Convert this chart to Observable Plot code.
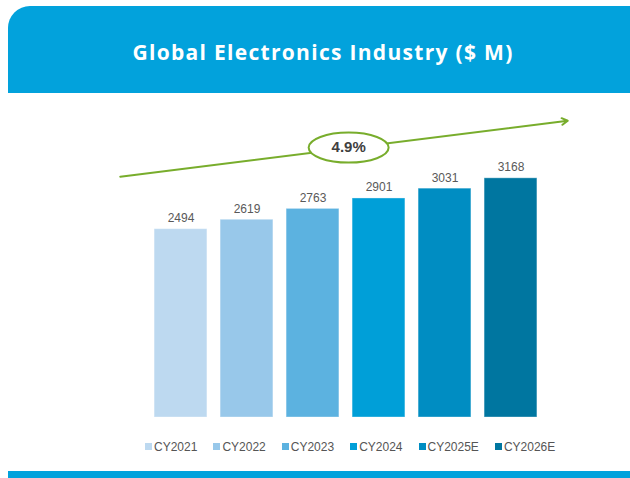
<!DOCTYPE html>
<html><head><meta charset="utf-8">
<script src="https://cdn.jsdelivr.net/npm/d3@7"></script>
<script src="https://cdn.jsdelivr.net/npm/@observablehq/plot@0.6"></script>
<style>
html,body{margin:0;padding:0;background:#fff;}
body{width:630px;height:478px;overflow:hidden;position:relative;font-family:"Liberation Sans",Arial,sans-serif;}
#header{position:absolute;left:8px;top:6px;width:652px;height:87px;background:#02a2dc;border-radius:22px 22px 0 0;}
#title{position:absolute;left:8px;top:6px;width:630px;height:87px;text-align:center;line-height:92px;color:#fff;font-family:"Open Sans",Lato,sans-serif;font-weight:700;font-size:21px;letter-spacing:1.3px;}
#footer{position:absolute;left:8px;top:471px;width:630px;height:7px;background:#02a2dc;}
#chart{position:absolute;left:0;top:93px;}
#legend{position:absolute;left:145px;top:430px;}
#legend span{margin-right:16px !important;}
#legend svg{margin-right:2px !important;}
</style>
</head><body>
<div id="header"></div>
<div id="title">Global Electronics Industry ($ M)</div>
<div id="chart"></div>
<div id="legend"></div>
<div id="footer"></div>
<script>
const categories = ["CY2021", "CY2022", "CY2023", "CY2024", "CY2025E", "CY2026E"];
const values = [2494, 2619, 2763, 2901, 3031, 3168];
const colors = ["#bdd9f0", "#98c8ea", "#5cb2e0", "#009fd8", "#008dc2", "#0076a0"];
const cagrLabel = "4.9%";
const trendX = [-0.92, 5.86];
const trendY = [3190, 3930];
const labelX = [2.54];
const labelY = [3575];

const bars = categories.map((c, i) => ({cat: c, idx: i, value: values[i]}));
const trend = [{x1: trendX[0], x2: trendX[1], y1: trendY[0], y2: trendY[1]}];
const badge = [{x: labelX[0], y: labelY[0], text: cagrLabel}];

const ellipse = {
  draw(ctx) {
    const rx = 40, ry = 15, k = 0.5523;
    ctx.moveTo(rx, 0);
    ctx.bezierCurveTo(rx, ry * k, rx * k, ry, 0, ry);
    ctx.bezierCurveTo(-rx * k, ry, -rx, ry * k, -rx, 0);
    ctx.bezierCurveTo(-rx, -ry * k, -rx * k, -ry, 0, -ry);
    ctx.bezierCurveTo(rx * k, -ry, rx, -ry * k, rx, 0);
    ctx.closePath();
  }
};

const plot = Plot.plot({
  width: 630,
  height: 340,
  marginLeft: 81.5,
  marginRight: 20.5,
  marginTop: 22,
  marginBottom: 16,
  style: {fontFamily: "'Liberation Sans', Arial, sans-serif", background: "transparent"},
  x: {domain: [-1.5, 6.5], axis: null},
  y: {domain: [0, 4000], axis: null},
  color: {type: "ordinal", domain: categories, range: colors},
  marks: [
    Plot.rectY(bars, {x1: d => d.idx - 0.4, x2: d => d.idx + 0.4, y1: 0, y2: "value", fill: "cat", stroke: "#ffffff", strokeOpacity: 0.35, strokeWidth: 1}),
    Plot.text(bars, {x: "idx", y: "value", text: d => String(d.value), dy: -11, fontSize: 12, fill: "#595959"}),
    Plot.arrow(trend, {x1: "x1", x2: "x2", y1: "y1", y2: "y2", stroke: "#78ad2c", strokeWidth: 2, headLength: 5}),
    Plot.dot(badge, {x: "x", y: "y", symbol: ellipse, r: 1, fill: "#fff", stroke: "#78ad2c", strokeWidth: 2}),
    Plot.text(badge, {x: "x", y: "y", text: "text", fontSize: 15, fontWeight: "bold", fill: "#404040"})
  ]
});
document.getElementById("chart").appendChild(plot);

const legend = Plot.legend({
  color: {type: "ordinal", domain: categories, range: colors},
  swatchSize: 7,
  style: {fontFamily: "'Liberation Sans', Arial, sans-serif", fontSize: "12px", color: "#555"}
});
document.getElementById("legend").appendChild(legend);
</script>
</body></html>
